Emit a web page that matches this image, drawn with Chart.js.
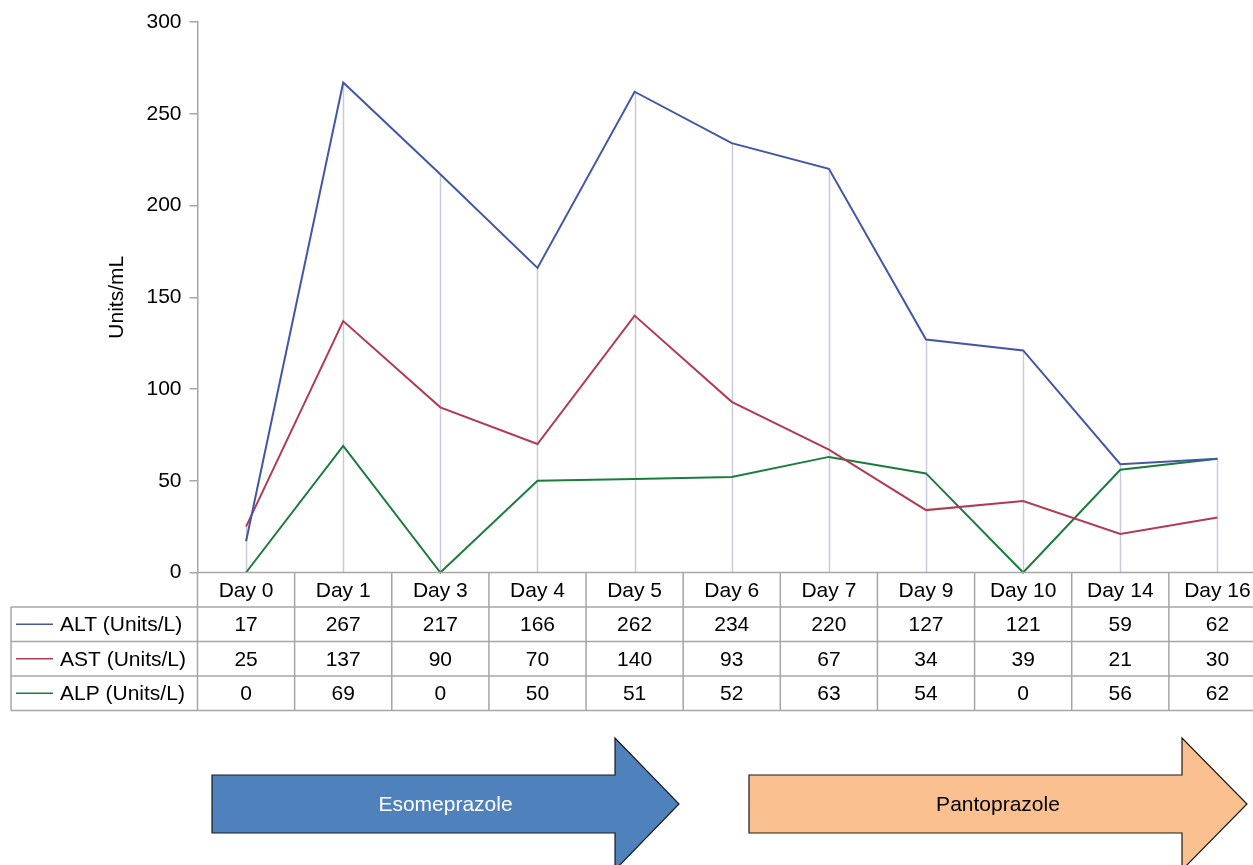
<!DOCTYPE html>
<html>
<head>
<meta charset="utf-8">
<script src="https://cdn.jsdelivr.net/npm/chart.js@4"></script>
<style>
html,body{margin:0;padding:0;background:#fff;overflow:hidden;}
#wrap{position:relative;width:1266px;height:865px;}
</style>
</head>
<body>
<div id="wrap"><canvas id="c"></canvas></div>
<script>
const categories = ["Day 0","Day 1","Day 3","Day 4","Day 5","Day 6","Day 7","Day 9","Day 10","Day 14","Day 16"];
const altValues = [17,267,217,166,262,234,220,127,121,59,62];
const astValues = [25,137,90,70,140,93,67,34,39,21,30];
const alpValues = [0,69,0,50,51,52,63,54,0,56,62];
const seriesNames = ["ALT (Units/L)","AST (Units/L)","ALP (Units/L)"];
const seriesColors = ["#4357a5","#b13c52","#1b7c3d"];
const yTicks = [0,50,100,150,200,250,300];
const arrowLabels = ["Esomeprazole","Pantoprazole"];

const FONT = '"Liberation Sans", Arial, sans-serif';
const FS = 21;

const dropLines = {
  id:'dropLines',
  beforeDatasetsDraw(chart){
    const ctx = chart.ctx, x = chart.scales.x, y = chart.scales.y;
    ctx.save();
    ctx.strokeStyle = '#c9c9dd';
    ctx.lineWidth = 1.5;
    categories.forEach((c,i)=>{
      const m = Math.max(altValues[i],astValues[i],alpValues[i]);
      const px = Math.round(x.getPixelForValue(i))+0.5;
      ctx.beginPath();
      ctx.moveTo(px, y.getPixelForValue(m));
      ctx.lineTo(px, y.getPixelForValue(0));
      ctx.stroke();
    });
    ctx.restore();
  }
};

const dataTable = {
  id:'dataTable',
  afterDraw(chart){
    const ctx = chart.ctx, x = chart.scales.x, y = chart.scales.y;
    const area = chart.chartArea;
    const top = y.getPixelForValue(0);
    const rowH = 34.5;
    const leftX = 11;
    const colW = (area.right - area.left)/categories.length;
    ctx.save();
    ctx.strokeStyle = '#a6a6a6';
    ctx.lineWidth = 1.5;
    ctx.beginPath();
    ctx.moveTo(area.left, top); ctx.lineTo(area.right, top);
    for (let r=1;r<=4;r++){
      const yy = top + r*rowH;
      ctx.moveTo(leftX, yy); ctx.lineTo(area.right, yy);
    }
    ctx.moveTo(leftX, top+rowH); ctx.lineTo(leftX, top+4*rowH);
    for (let cI=0;cI<=categories.length;cI++){
      const xx = area.left + cI*colW;
      ctx.moveTo(xx, top); ctx.lineTo(xx, top+4*rowH);
    }
    ctx.stroke();
    ctx.fillStyle = '#000';
    ctx.font = FS+'px '+FONT;
    ctx.textAlign = 'center';
    ctx.textBaseline = 'middle';
    categories.forEach((c,i)=>{
      const cx = x.getPixelForValue(i);
      ctx.fillText(c, cx, top + rowH/2 + 1);
      [altValues,astValues,alpValues].forEach((arr,r)=>{
        ctx.fillText(String(arr[i]), cx, top + (r+1.5)*rowH + 1);
      });
    });
    ctx.textAlign = 'left';
    seriesNames.forEach((n,r)=>{
      const cy = top + (r+1.5)*rowH;
      ctx.strokeStyle = seriesColors[r];
      ctx.lineWidth = 1.5;
      ctx.beginPath(); ctx.moveTo(16, cy); ctx.lineTo(53, cy); ctx.stroke();
      ctx.fillText(n, 60, cy + 1);
    });
    ctx.restore();

    const arrows = [
      {l:212, hx:615, tip:679, fill:'#4f81bd', text:'#ffffff'},
      {l:749, hx:1182, tip:1247, fill:'#fac090', text:'#000000'}
    ];
    arrows.forEach((a,i)=>{
      const cy = 804, bh = 29, hh = 66;
      ctx.save();
      ctx.beginPath();
      ctx.moveTo(a.l, cy-bh);
      ctx.lineTo(a.hx, cy-bh);
      ctx.lineTo(a.hx, cy-hh);
      ctx.lineTo(a.tip, cy);
      ctx.lineTo(a.hx, cy+hh);
      ctx.lineTo(a.hx, cy+bh);
      ctx.lineTo(a.l, cy+bh);
      ctx.closePath();
      ctx.fillStyle = a.fill;
      ctx.fill();
      ctx.strokeStyle = '#1a1a1a';
      ctx.lineWidth = 1.2;
      ctx.stroke();
      ctx.fillStyle = a.text;
      ctx.font = FS+'px '+FONT;
      ctx.textAlign = 'center';
      ctx.textBaseline = 'middle';
      ctx.fillText(arrowLabels[i], (a.l + a.tip)/2, cy + 1);
      ctx.restore();
    });
  }
};

const mk = (label, data, color) => ({
  label, data, borderColor: color, backgroundColor: color,
  borderWidth: 2, pointRadius: 0, tension: 0, clip: false
});

new Chart(document.getElementById('c'), {
  type:'line',
  data:{
    labels: categories,
    datasets:[
      mk(seriesNames[0], altValues, seriesColors[0]),
      mk(seriesNames[1], astValues, seriesColors[1]),
      mk(seriesNames[2], alpValues, seriesColors[2])
    ]
  },
  options:{
    responsive:true,
    maintainAspectRatio:false,
    animation:false,
    layout:{padding:{left:0,right:0,top:22,bottom:292.5}},
    plugins:{legend:{display:false}, tooltip:{enabled:false}},
    scales:{
      x:{display:false, offset:true},
      y:{
        min:0, max:300,
        afterFit(s){ s.width = 197.5; },
        afterBuildTicks(s){ s.ticks = yTicks.map(v=>({value:v})); },
        ticks:{color:'#000', font:{family:FONT,size:FS}, padding:8},
        grid:{drawOnChartArea:false, tickLength:8, color:'#a6a6a6', lineWidth:1.5},
        border:{color:'#a6a6a6', width:1.5},
        title:{display:true, text:'Units/mL', color:'#000', font:{family:FONT,size:FS}, padding:{top:105,bottom:0}}
      }
    }
  },
  plugins:[dropLines, dataTable]
});
</script>
</body>
</html>
